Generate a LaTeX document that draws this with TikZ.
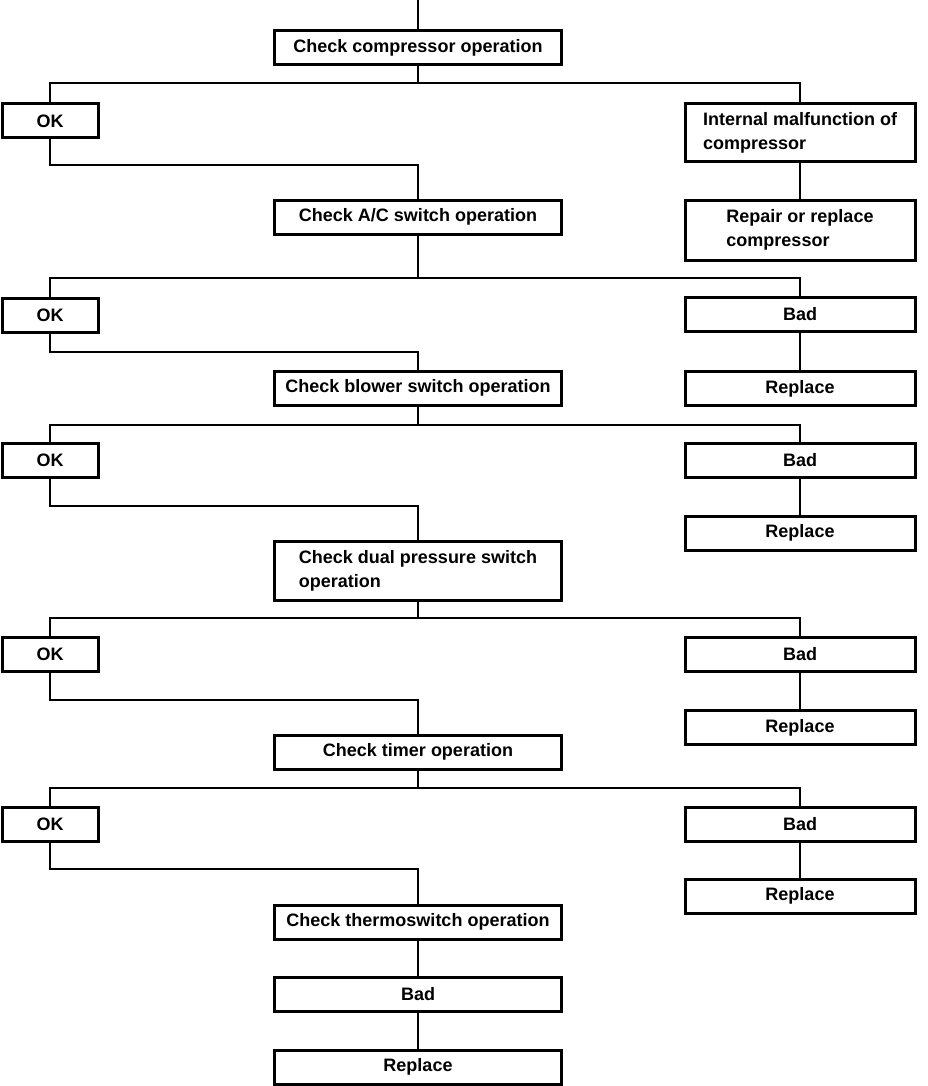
\documentclass[tikz,border=0pt]{standalone}
\usepackage{fontspec}
\setmainfont{Liberation Sans}
\begin{document}
\begin{tikzpicture}[x=1pt, y=-1pt,
        box/.style={draw, line width=3pt, inner sep=3pt, minimum height=34pt,
            font=\fontsize{18}{24}\selectfont\bfseries},
        okbox/.style={box, minimum width=96pt},
        midbox/.style={box, minimum width=287pt},
        sidebox/.style={box, minimum width=230pt},
        link/.style={line width=2.5pt}]
        \useasboundingbox (0,0) rectangle (928,1086);

        \node[midbox] (chkcomp) at (418,47.5) {Check compressor operation};
        \node[okbox] (ok1) at (50,121) {OK};
        \node[sidebox, minimum height=58pt, align=left] (malf) at (800,133) {Internal malfunction of\\compressor};
        \node[sidebox, minimum height=60pt, align=left] (repair) at (800,230) {Repair or replace\\compressor};

        \node[midbox] (chkac) at (418,217) {Check A/C switch operation};
        \node[okbox] (ok2) at (50,315) {OK};
        \node[sidebox] (bad2) at (800,314.5) {Bad};
        \node[sidebox] (rep2) at (800,388.5) {Replace};

        \node[midbox] (chkblow) at (418,388) {Check blower switch operation};
        \node[okbox] (ok3) at (50,460.5) {OK};
        \node[sidebox] (bad3) at (800,460.5) {Bad};
        \node[sidebox] (rep3) at (800,533) {Replace};

        \node[midbox, minimum height=59pt, align=left] (chkdual) at (418,570.5) {Check dual pressure switch\\operation};
        \node[okbox] (ok4) at (50,654) {OK};
        \node[sidebox] (bad4) at (800,654) {Bad};
        \node[sidebox] (rep4) at (800,727.5) {Replace};

        \node[midbox] (chktimer) at (418,752) {Check timer operation};
        \node[okbox] (ok5) at (50,824) {OK};
        \node[sidebox] (bad5) at (800,824) {Bad};
        \node[sidebox] (rep5) at (800,896) {Replace};

        \node[midbox] (chkthermo) at (418,922) {Check thermoswitch operation};
        \node[midbox] (bad6) at (418,994) {Bad};
        \node[midbox] (rep6) at (418,1067) {Replace};

        \coordinate (top) at (418,0);
        \coordinate (b1) at (418,83);
        \coordinate (d1) at (418,165);
        \coordinate (b2) at (418,278);
        \coordinate (d2) at (418,352);
        \coordinate (b3) at (418,425);
        \coordinate (d3) at (418,506);
        \coordinate (b4) at (418,618);
        \coordinate (d4) at (418,700);
        \coordinate (b5) at (418,788);
        \coordinate (d5) at (418,869);

        \draw[link] (top) -- (chkcomp);
        \draw[link] (chkcomp) -- (b1);
        \draw[link] (ok1.north) |- (b1) -| (malf.north);
        \draw[link] (malf) -- (repair);
        \draw[link] (ok1.south) |- (d1) -- (chkac);

        \draw[link] (chkac) -- (b2);
        \draw[link] (ok2.north) |- (b2) -| (bad2.north);
        \draw[link] (bad2) -- (rep2);
        \draw[link] (ok2.south) |- (d2) -- (chkblow);

        \draw[link] (chkblow) -- (b3);
        \draw[link] (ok3.north) |- (b3) -| (bad3.north);
        \draw[link] (bad3) -- (rep3);
        \draw[link] (ok3.south) |- (d3) -- (chkdual);

        \draw[link] (chkdual) -- (b4);
        \draw[link] (ok4.north) |- (b4) -| (bad4.north);
        \draw[link] (bad4) -- (rep4);
        \draw[link] (ok4.south) |- (d4) -- (chktimer);

        \draw[link] (chktimer) -- (b5);
        \draw[link] (ok5.north) |- (b5) -| (bad5.north);
        \draw[link] (bad5) -- (rep5);
        \draw[link] (ok5.south) |- (d5) -- (chkthermo);

        \draw[link] (chkthermo) -- (bad6);
        \draw[link] (bad6) -- (rep6);
    \end{tikzpicture}
\end{document}
